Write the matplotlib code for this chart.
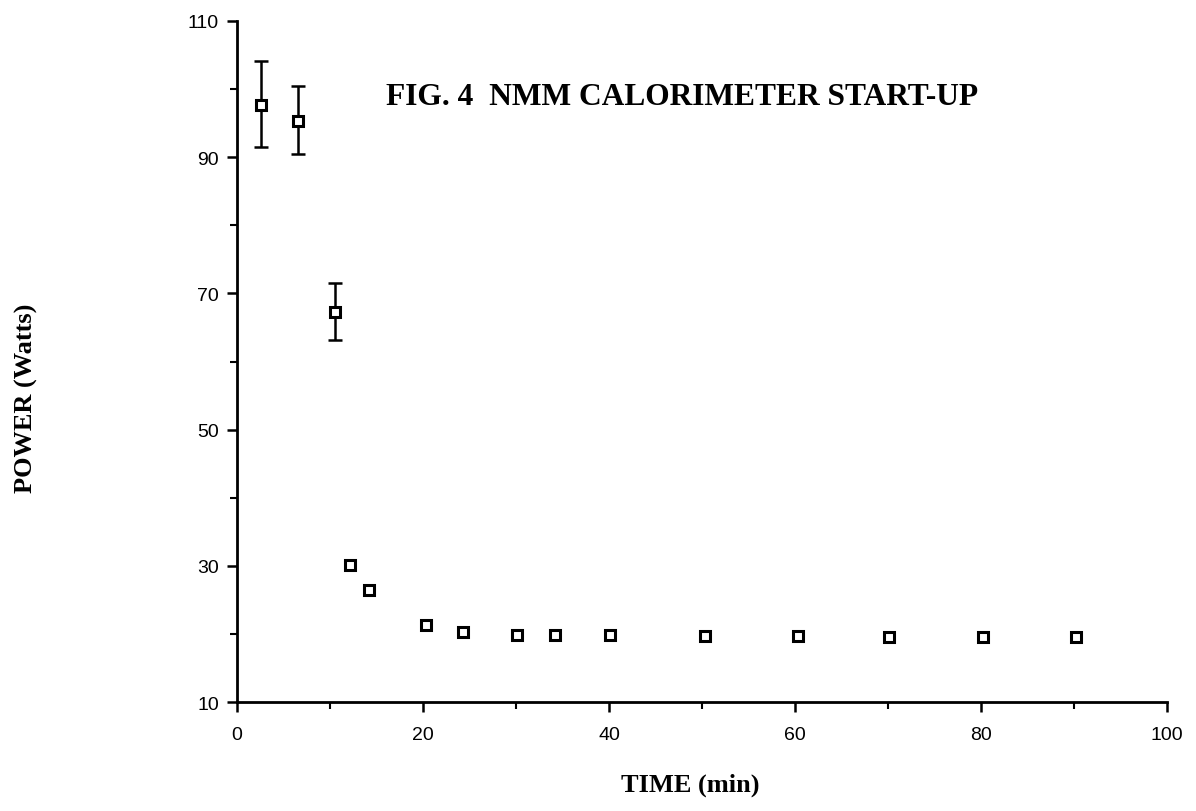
import matplotlib
matplotlib.use("Agg")
import matplotlib.pyplot as plt
from matplotlib.ticker import FixedLocator

# Data
time_min = [2.6, 6.6, 10.5, 12.2, 14.2, 20.3, 24.3, 30.1, 34.2, 40.1, 50.3, 60.3, 70.1, 80.2, 90.2]
power_w = [97.7, 95.3, 67.3, 30.1, 26.4, 21.3, 20.3, 19.9, 19.9, 19.8, 19.7, 19.7, 19.6, 19.6, 19.5]
err_low = [6.2, 4.9, 4.1, 0, 0, 0, 0, 0, 0, 0, 0, 0, 0, 0, 0]
err_high = [6.4, 5.2, 4.3, 0, 0, 0, 0, 0, 0, 0, 0, 0, 0, 0, 0]
n_err = 3

x_major = [0, 20, 40, 60, 80, 100]
x_minor = [10, 30, 50, 70, 90]
y_major = [10, 30, 50, 70, 90, 110]
y_minor = [20, 40, 60, 80, 100]

title = "FIG. 4  NMM CALORIMETER START-UP"
xlabel = "TIME (min)"
ylabel = "POWER (Watts)"

fig = plt.figure(figsize=(11.96, 8.12), dpi=100)
ax = fig.add_axes([0.198, 0.134, 0.778, 0.839])

ax.errorbar(time_min[:n_err], power_w[:n_err],
            yerr=[err_low[:n_err], err_high[:n_err]],
            fmt="none", ecolor="black", elinewidth=1.8, capsize=5, capthick=1.8, zorder=2)
ax.plot(time_min, power_w, linestyle="none", marker="s", markersize=7,
        markerfacecolor="white", markeredgecolor="black", markeredgewidth=2.2, zorder=3)

ax.set_xlim(0, 100)
ax.set_ylim(10, 110)
ax.xaxis.set_major_locator(FixedLocator(x_major))
ax.xaxis.set_minor_locator(FixedLocator(x_minor))
ax.yaxis.set_major_locator(FixedLocator(y_major))
ax.yaxis.set_minor_locator(FixedLocator(y_minor))

for s in ["top", "right"]:
    ax.spines[s].set_visible(False)
for s in ["left", "bottom"]:
    ax.spines[s].set_linewidth(2)

ax.tick_params(which="major", direction="out", length=7, width=1.8, labelsize=14)
ax.tick_params(axis="x", which="major", pad=10)
ax.tick_params(axis="y", which="major", pad=6)
ax.tick_params(which="minor", direction="out", length=5, width=1.5)
for lab in ax.get_xticklabels() + ax.get_yticklabels():
    lab.set_family("Liberation Sans")

ax.text(16, 98.9, title, family="Liberation Serif", fontweight="bold", fontsize=22.7,
        ha="left", va="center")
fig.text(690 / 1196, 1 - 785 / 812, xlabel, family="Liberation Serif", fontweight="bold",
         fontsize=19, ha="center", va="center")
fig.text(26 / 1196, 1 - 398 / 812, ylabel, family="Liberation Serif", fontweight="bold",
         fontsize=19, ha="center", va="center", rotation=90)

fig.savefig("out.png", dpi=100)
